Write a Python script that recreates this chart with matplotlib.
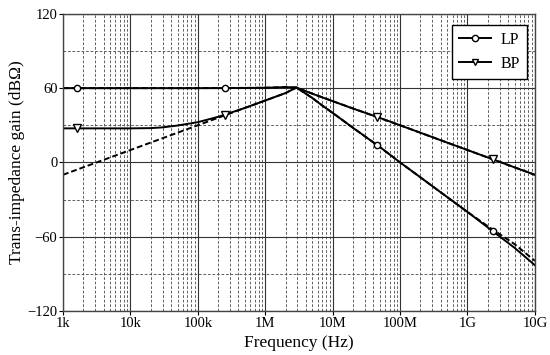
import numpy as np
import matplotlib
matplotlib.use("Agg")
import matplotlib.pyplot as plt
from matplotlib.ticker import FixedLocator, LogLocator, NullFormatter

# ---- data ----
lp_f = [1e3, 1e4, 1e5, 5e5, 1e6, 2e6, 2.9e6, 4e6, 5e6, 7e6, 1e7, 2e7, 5e7, 1e8, 2e8, 5e8, 1e9, 2e9, 5e9, 1e10]
lp_db = [60, 60, 60, 60.1, 60.3, 60.8, 60.5, 55.5, 52, 46, 40, 28, 12.5, 0, -12, -28, -40, -52.5, -69, -83]

lp2_f = [1e3, 1e5, 1e6, 2e6, 2.9e6, 4e6, 5e6, 7e6, 1e7, 2e7, 5e7, 1e8, 2e8, 5e8, 1e9, 2e9, 5e9, 1e10]
lp2_db = [60, 60, 60.3, 60.8, 60.5, 55.5, 52, 46, 40, 28, 12.5, 0, -12, -28, -40, -51.5, -66, -79.5]

bp_f = [1e3, 1e4, 2e4, 3e4, 5e4, 1e5, 2e5, 5e5, 1e6, 2e6, 2.9e6, 5e6, 1e7, 2e7, 5e7, 1e8, 2e8, 5e8, 1e9, 2e9, 5e9, 1e10]
bp_db = [27.5, 27.5, 27.7, 28.3, 29.8, 32.5, 36.8, 44, 50, 56, 60.5, 55.5, 49.5, 43.5, 36, 30, 24, 16, 10, 4, -4, -10]

bp2_f = [1e3, 1e4, 1e5, 1e6, 2e6, 2.9e6, 5e6, 1e7, 1e8, 1e9, 1e10]
bp2_db = [-10, 10, 30, 50, 56, 60.5, 55.5, 49.5, 30, 10, -10]

lp_marker_f = [1.63e3, 2.54e5, 4.5e7, 2.4e9]
bp_marker_f = [1.63e3, 2.54e5, 4.5e7, 2.4e9]

x_ticks = [1e3, 1e4, 1e5, 1e6, 1e7, 1e8, 1e9, 1e10]
x_labels = ["1k", "10k", "100k", "1M", "10M", "100M", "1G", "10G"]
y_ticks = [-120, -60, 0, 60, 120]
y_labels = ["\u2212120", "\u221260", "0", "60", "120"]
y_minor = [-90, -30, 30, 90]

plt.rcParams['font.family'] = ['Liberation Serif', 'DejaVu Serif']

fig = plt.figure(figsize=(5.5, 3.55), dpi=100)
ax = fig.add_axes([0.1145, 0.124, 0.858, 0.837])

def interp_log(fq, f, d):
    return np.interp(np.log10(fq), np.log10(f), d)

lw = 1.4
ax.plot(lp2_f, lp2_db, color='black', lw=lw, ls=(0, (3, 1.5)))
ax.plot(bp2_f, bp2_db, color='black', lw=lw, ls=(0, (3, 1.5)))
ax.plot(lp_f, lp_db, color='black', lw=lw)
ax.plot(bp_f, bp_db, color='black', lw=lw)

ax.plot(lp_marker_f, interp_log(lp_marker_f, lp_f, lp_db), ls='none', marker='o',
        ms=4.5, mfc='white', mec='black', mew=1.0)
ax.plot(bp_marker_f, interp_log(bp_marker_f, bp_f, bp_db), ls='none', marker='v',
        ms=5.5, mfc='white', mec='black', mew=1.0)

# legend proxies
ax.plot([], [], color='black', lw=lw, marker='o', ms=4.5, mfc='white', mec='black', mew=1.0, label='LP')
ax.plot([], [], color='black', lw=lw, marker='v', ms=4.5, mfc='white', mec='black', mew=1.0, label='BP')

ax.set_xscale('log')
ax.set_xlim(1e3, 1e10)
ax.set_ylim(-120, 120)
ax.set_xticks(x_ticks)
ax.set_xticklabels(x_labels)
ax.xaxis.set_minor_locator(LogLocator(base=10, subs=np.arange(2, 10)))
ax.xaxis.set_minor_formatter(NullFormatter())
ax.set_yticks(y_ticks)
ax.set_yticklabels(y_labels)
ax.yaxis.set_minor_locator(FixedLocator(y_minor))

ax.grid(which='major', color='#333333', lw=0.8, ls='-')
ax.grid(which='minor', color='#555555', lw=0.65, ls=(0, (3, 2)))
ax.set_axisbelow(True)

ax.tick_params(which='major', direction='out', length=3, width=0.8, labelsize=10.5, pad=1)
ax.tick_params(which='minor', length=0)
for s in ax.spines.values():
    s.set_color('#444444')
    s.set_linewidth(1.0)

ax.set_xlabel('Frequency (Hz)', fontsize=12.5, labelpad=4)
ax.set_ylabel('Trans-impedance gain (dB\u03a9)', fontsize=12.5, labelpad=2)

leg = ax.legend(loc='upper right', bbox_to_anchor=(0.983, 0.963), borderaxespad=0,
                fancybox=False, edgecolor='black', framealpha=1, fontsize=11.5,
                handlelength=2.0, borderpad=0.45, labelspacing=0.5, handletextpad=0.6)
leg.get_frame().set_linewidth(1.0)

fig.savefig('out.png', dpi=100)
